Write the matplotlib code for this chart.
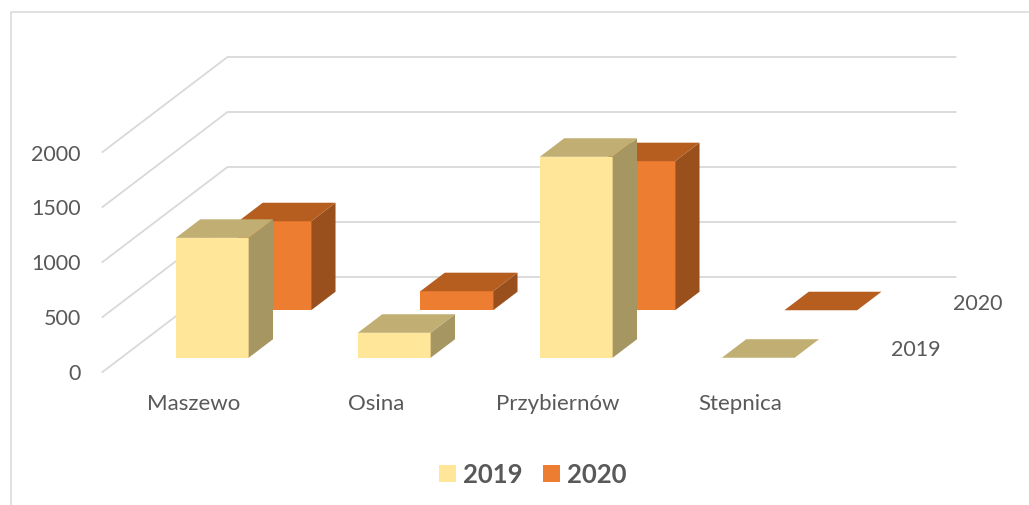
import matplotlib
matplotlib.use("Agg")
import matplotlib.pyplot as plt
from matplotlib.patches import Polygon, Rectangle

plt.rcParams['font.family'] = ['Lato', 'DejaVu Sans']

categories = ["Maszewo", "Osina", "Przybiernów", "Stepnica"]
series_names = ["2019", "2020"]
values_2019 = [1090, 227, 1827, 0]
values_2020 = [809, 173, 1355, 0]
y_ticks = [0, 500, 1000, 1500, 2000]

# colours: front, top, side
colors_2019 = ("#FFE699", "#C1AE72", "#A59662")
colors_2020 = ("#ED7D31", "#B55E20", "#9A501C")
grid_color = "#D9D9D9"
text_color = "#595959"

# oblique projection of (category slot, value, depth) to pixels
origin_x, origin_y = 102.5, 373
slot_w = 182
px_per_unit = 0.11
depth_x, depth_y = 125, -95
bar_w = 0.40
bar_d = 0.195


def project(x, value, depth):
    return (origin_x + x * slot_w + depth * depth_x,
            origin_y - value * px_per_unit + depth * depth_y)


fig = plt.figure(figsize=(10.29, 5.06), dpi=100)
ax = fig.add_axes([0, 0, 1, 1])
ax.set_xlim(0, 1029)
ax.set_ylim(506, 0)
ax.axis("off")

# chart border, only top and left are in the picture
ax.plot([10.5, 10.5, 1029], [506, 12.5, 12.5], color=grid_color, lw=1.1, zorder=1)

# gridlines
for t in y_ticks:
    pts = [project(0, t, 0), project(0, t, 1), project(4, t, 1)]
    ax.plot([p[0] for p in pts], [p[1] for p in pts], color=grid_color, lw=1.3, zorder=1)
    ax.text(81, project(0, t, 0)[1] + 0.5 + t * 0.0005, str(t), ha="right", va="center",
            fontsize=15.5, color=text_color)


def draw_bar(slot, value, depth, cols):
    x0 = slot + (1 - bar_w) / 2
    x1 = x0 + bar_w
    d1 = depth + bar_d
    front = [project(x0, 0, depth), project(x1, 0, depth), project(x1, value, depth), project(x0, value, depth)]
    top = [project(x0, value, depth), project(x1, value, depth), project(x1, value, d1), project(x0, value, d1)]
    side = [project(x1, 0, depth), project(x1, 0, d1), project(x1, value, d1), project(x1, value, depth)]
    z = 5 - depth
    if value > 0:
        ax.add_patch(Polygon(front, closed=True, fc=cols[0], ec="none", zorder=z))
        ax.add_patch(Polygon(side, closed=True, fc=cols[2], ec="none", zorder=z))
    ax.add_patch(Polygon(top, closed=True, fc=cols[1], ec="none", zorder=z))


# back row first so the front row covers it
for i in range(len(categories)):
    draw_bar(i, values_2020[i], 0.65, colors_2020)
for i in range(len(categories)):
    draw_bar(i, values_2019[i], 0.15, colors_2019)

# category labels
label_x = [194, 376, 558, 740]
for x, name in zip(label_x, categories):
    ax.text(x, 404, name, ha="center", va="center", fontsize=16, color=text_color)

# series labels on the depth axis
ax.text(915.5, 349.5, series_names[0], ha="center", va="center", fontsize=15.5, color=text_color)
ax.text(977.5, 303.5, series_names[1], ha="center", va="center", fontsize=15.5, color=text_color)

# legend
ax.add_patch(Rectangle((439, 466), 17, 17, fc=colors_2019[0], ec="none"))
ax.text(463, 475, series_names[0], ha="left", va="center", fontsize=18.5,
        fontweight="bold", color=text_color)
ax.add_patch(Rectangle((543, 466), 17, 17, fc=colors_2020[0], ec="none"))
ax.text(567, 475, series_names[1], ha="left", va="center", fontsize=18.5,
        fontweight="bold", color=text_color)

fig.savefig("out.png", dpi=100)
